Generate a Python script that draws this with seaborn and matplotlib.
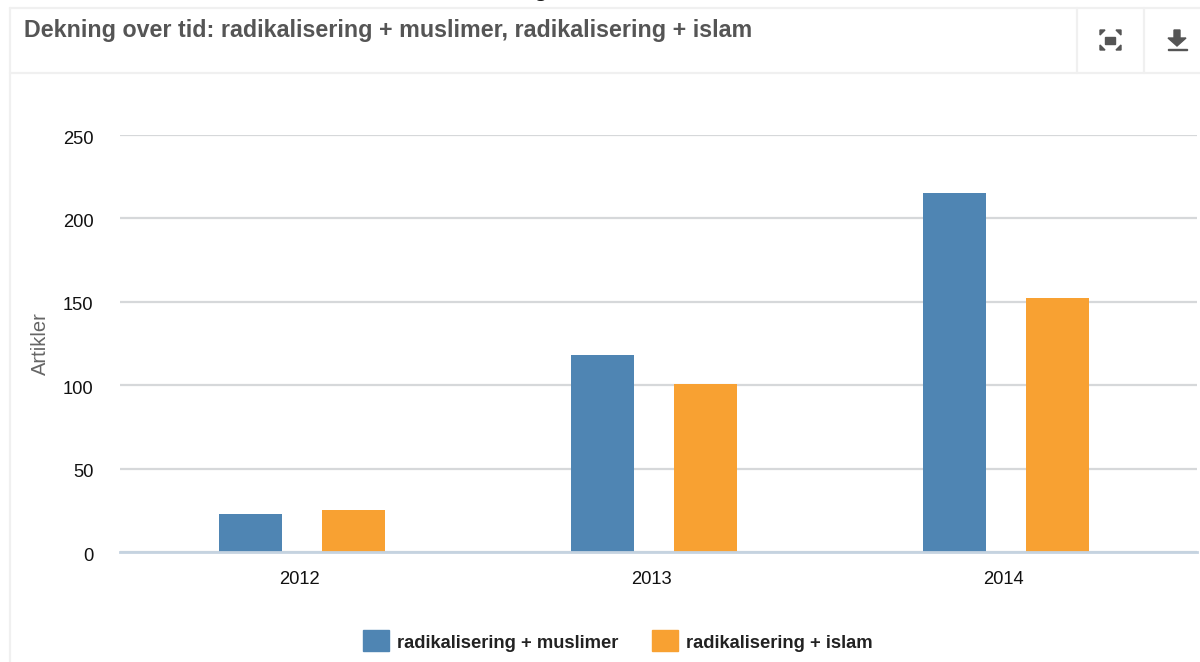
import matplotlib
matplotlib.use("Agg")
import matplotlib.pyplot as plt
from matplotlib.patches import Rectangle, Polygon
from matplotlib.lines import Line2D
from matplotlib.transforms import ScaledTranslation
import pandas as pd
import seaborn as sns

years = ["2012", "2013", "2014"]
muslimer = [23, 118, 215]
islam = [25, 101, 152]
series_names = ["radikalisering + muslimer", "radikalisering + islam"]
colors = ["#4f85b3", "#f8a132"]
title = "Dekning over tid: radikalisering + muslimer, radikalisering + islam"

df = pd.DataFrame({
    "year": years * 2,
    "value": muslimer + islam,
    "series": [series_names[0]] * 3 + [series_names[1]] * 3,
})

sns.set_theme(style="white")
plt.rcParams["font.family"] = ["Liberation Sans", "DejaVu Sans"]

W, H = 1200, 662
fig = plt.figure(figsize=(W / 100, H / 100), dpi=100, facecolor="white")


def fx(x):
    return x / W


def fy(y):
    return 1 - y / H


ax = fig.add_axes([fx(120), fy(552), (1197 - 120) / W, (552 - 135) / H])

sns.barplot(data=df, x="year", y="value", hue="series", palette=colors,
            width=0.582, gap=0.385, saturation=1, linewidth=0, ax=ax, legend=False)

x0_px = 302
ax.set_xlim((120 - x0_px) / 352, (1197 - x0_px) / 352)
ax.set_ylim(0, 250)
ax.set_yticks([0, 50, 100, 150, 200, 250])
ax.yaxis.grid(True, color="#d6d8da", linewidth=1.6)
ax.set_axisbelow(True)
for s in ["top", "left", "right"]:
    ax.spines[s].set_visible(False)
ax.spines["bottom"].set_color("#c5d3e0")
ax.spines["bottom"].set_linewidth(2)
ax.tick_params(axis="both", length=0, labelsize=13.2, labelcolor="#111111")
ax.tick_params(axis="x", pad=14)
ax.tick_params(axis="y", pad=19)
for t in ax.get_yticklabels():
    t.set_transform(t.get_transform() + ScaledTranslation(0, -1.5 / 72, fig.dpi_scale_trans))
for t in ax.get_xticklabels():
    t.set_transform(t.get_transform() + ScaledTranslation(-1.5 / 72, 0.5 / 72, fig.dpi_scale_trans))
ax.set_xlabel("")
ax.set_ylabel("")
fig.text(fx(40), fy(344), "Artikler", rotation=90, ha="center", va="center",
         fontsize=14.5, color="#666666")

# Panel frame and header
frame = [((10, 8), (1200, 8)), ((10, 73), (1200, 73)), ((10, 8), (10, 662)),
         ((1077, 8), (1077, 73)), ((1144, 8), (1144, 73))]
for (x0, y0), (x1, y1) in frame:
    fig.add_artist(Line2D([fx(x0), fx(x1)], [fy(y0), fy(y1)], color="#f0f0f0", lw=1.6))

fig.text(fx(24), fy(30), title, fontsize=16.75, fontweight="bold", color="#555555",
         ha="left", va="center")

# Clipped heading fragment above the panel
fig.text(fx(540), fy(-3), "g", fontsize=14, fontweight="bold", family="Liberation Serif",
         color="#111111", ha="center", va="baseline")

# Expand icon
icon = "#555555"
fig.add_artist(Rectangle((fx(1105), fy(44)), 10 / W, 7.5 / H, color=icon, transform=fig.transFigure))
for cx, cy, dx, dy in [(1100, 30, 1, 1), (1121, 30, -1, 1), (1100, 50, 1, -1), (1121, 50, -1, -1)]:
    pts = [(cx, cy), (cx + 5 * dx, cy), (cx, cy + 5 * dy)]
    fig.add_artist(Polygon([(fx(a), fy(b)) for a, b in pts], color=icon, transform=fig.transFigure))

# Download icon
pts = [(1174, 30), (1180, 30), (1180, 38), (1186, 38), (1177, 46), (1168, 38), (1174, 38)]
fig.add_artist(Polygon([(fx(a), fy(b)) for a, b in pts], color=icon, transform=fig.transFigure))
fig.add_artist(Rectangle((fx(1168), fy(50)), 19 / W, 1.5 / H, color=icon, transform=fig.transFigure))

# Legend
for x, name, c in [(363, series_names[0], colors[0]), (652, series_names[1], colors[1])]:
    fig.add_artist(Rectangle((fx(x), fy(651)), 26 / W, 21 / H, color=c, transform=fig.transFigure))
    fig.text(fx(x + 34), fy(643), name, fontsize=13.2, fontweight="bold", color="#222222",
             ha="left", va="center")

fig.savefig("out.png", dpi=100)
